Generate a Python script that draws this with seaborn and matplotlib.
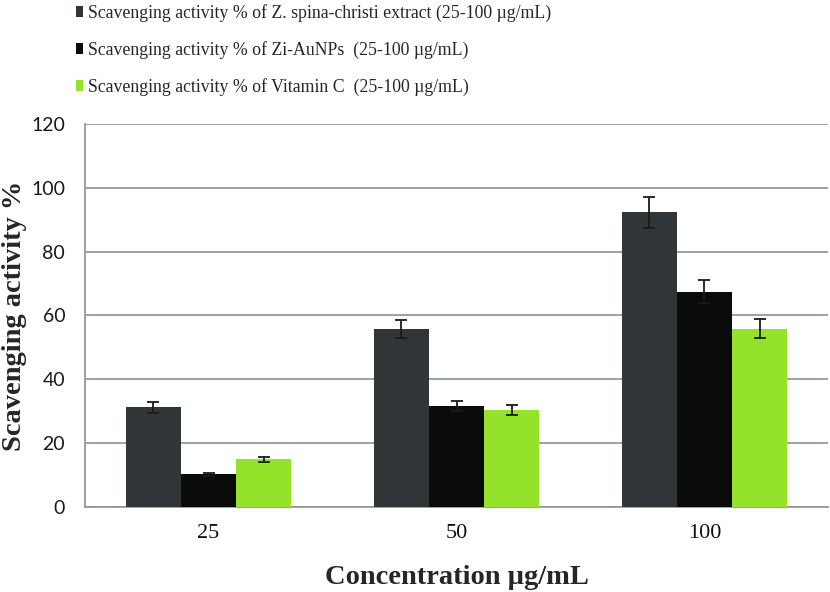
import pandas as pd
import seaborn as sns
import matplotlib.pyplot as plt
import numpy as np
from matplotlib.patches import Patch

#%% data
concentrations = ['25', '50', '100']
series = ['Scavenging activity % of Z. spina-christi extract (25-100 \u00b5g/mL)',
          'Scavenging activity % of Zi-AuNPs  (25-100 \u00b5g/mL)',
          'Scavenging activity % of Vitamin C  (25-100 \u00b5g/mL)']
extract = [31.2, 55.7, 92.3]
extract_err = [1.7, 2.9, 4.8]
aunps = [10.2, 31.7, 67.5]
aunps_err = [0.6, 1.5, 3.5]
vitc = [14.9, 30.3, 55.8]
vitc_err = [0.8, 1.6, 3.0]
colors = ['#303538', '#0a0c0a', '#94e22a']

values = [extract, aunps, vitc]
errors = [extract_err, aunps_err, vitc_err]
df = pd.DataFrame({
    'conc': concentrations * 3,
    'series': np.repeat(series, 3),
    'value': extract + aunps + vitc,
})

#%% plot
sns.set_style('white')
fig = plt.figure(figsize=(8.3, 5.92), dpi=100)
ax = fig.add_axes([0.102, 0.1436, 0.896, 0.647])

sns.barplot(data=df, x='conc', y='value', hue='series', order=concentrations,
            hue_order=series, palette=colors, width=0.667, saturation=1,
            errorbar=None, ax=ax, legend=False, zorder=3, linewidth=0)

for cont, err in zip(ax.containers, errors):
    xs = [p.get_x() + p.get_width() / 2 for p in cont]
    hs = [p.get_height() for p in cont]
    ax.errorbar(xs, hs, yerr=err, fmt='none', ecolor='#1a1a1a',
                elinewidth=1.3, capsize=4.5, capthick=1.3, zorder=4)

grid_c = '#8f9c9c'
ax.set_ylim(0, 120)
ax.set_yticks(range(0, 121, 20))
ax.set_xlim(-0.5, 2.5)
ax.yaxis.grid(True, color=grid_c, linewidth=1.3, zorder=0)
ax.set_axisbelow(True)
for s in ['top', 'right']:
    ax.spines[s].set_visible(False)
ax.spines['left'].set_color(grid_c)
ax.spines['bottom'].set_color(grid_c)
ax.spines['left'].set_linewidth(1.3)
ax.spines['bottom'].set_linewidth(1.3)

ax.set_xticks([0, 1, 2])
ax.set_xticklabels(concentrations)
ax.set_xticks([-0.5, 0.5, 1.5, 2.5], minor=True)
ax.tick_params(axis='x', which='major', length=0, pad=12)
ax.tick_params(axis='x', which='minor', length=7, width=1.3, color=grid_c)
ax.tick_params(axis='y', length=6, width=1.3, color=grid_c, pad=8)
for lab in ax.get_xticklabels():
    lab.set_family('Liberation Serif')
    lab.set_fontsize(16)
    lab.set_color('#111111')
for lab in ax.get_yticklabels():
    lab.set_family('Lato')
    lab.set_fontsize(14)
    lab.set_color('#1a1a1a')

ax.set_xlabel('Concentration \u00b5g/mL', family='Liberation Serif',
              fontsize=20.5, fontweight='bold', labelpad=16)
ax.set_ylabel('Scavenging activity %', family='Liberation Serif',
              fontsize=20.5, fontweight='bold')
ax.yaxis.set_label_coords(-0.078, 0.5)

handles = [Patch(facecolor=c, edgecolor='none') for c in colors]
fig.legend(handles, series, loc='upper left', bbox_to_anchor=(0.072, 1.02),
           frameon=False, handlelength=0.38, handleheight=0.6,
           handletextpad=0.3, labelspacing=1.07,
           prop={'family': 'Liberation Serif', 'size': 12.8})

plt.savefig('out.png', dpi=100)
